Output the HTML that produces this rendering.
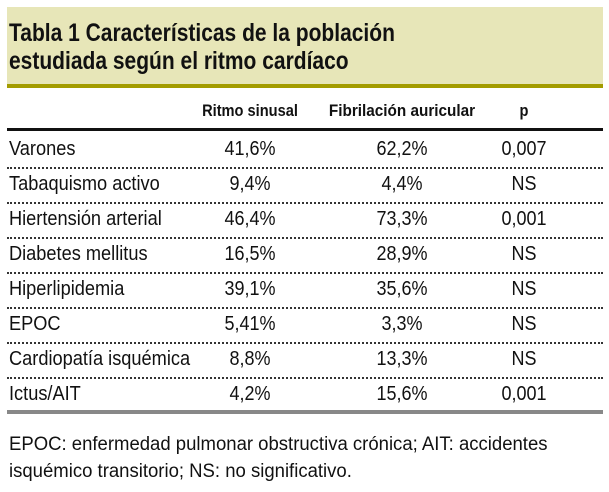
<!DOCTYPE html>
<html><head><meta charset="utf-8"><style>
body{margin:0;width:609px;height:492px;background:#fff;position:relative;overflow:hidden;font-family:"Liberation Sans",sans-serif;color:#111}
.a{position:absolute;white-space:nowrap}
.hdr{left:7px;top:7px;width:596px;height:77px;background:#e7e6b8}
.olive{left:7px;top:84px;width:596px;height:4px;background:#a39c00}
.t{left:9px;font-weight:bold;font-size:25px;line-height:28px;transform:scaleX(0.84);transform-origin:0 0}
.ch{font-weight:bold;font-size:17px;top:101px;transform:translateX(-50%) scaleX(0.86)}
.cell{font-size:20px;transform:translateX(-50%) scaleX(0.9)}
.lab{font-size:20px;left:9px;transform:scaleX(0.91);transform-origin:0 0}
.sep{left:7px;width:596px;height:0;border-top:2px dotted #333}
.fn{left:9px;font-size:19px;line-height:27px;transform:scaleX(0.975);transform-origin:0 0}
</style></head><body>
<div class="a hdr"></div>
<div class="a olive"></div>
<div class="a t" style="top:19px">Tabla 1 Características de la población<br>estudiada según el ritmo cardíaco</div>
<div class="a ch" style="left:250px">Ritmo sinusal</div>
<div class="a ch" style="left:402px;transform:translateX(-50%) scaleX(0.9)">Fibrilación auricular</div>
<div class="a ch" style="left:524px">p</div>
<div class="a" style="left:7px;top:128px;width:596px;height:3px;background:#111"></div>
<div id="rows"></div>
<div class="a" style="left:7px;top:410px;width:596px;height:4px;background:#888"></div>
<div class="a fn" style="top:431px">EPOC: enfermedad pulmonar obstructiva crónica; AIT: accidentes<br>isquémico transitorio; NS: no significativo.</div>
<script>
const labels=["Varones","Tabaquismo activo","Hiertensión arterial","Diabetes mellitus","Hiperlipidemia","EPOC","Cardiopatía isquémica","Ictus/AIT"];
const sinusal=["41,6%","9,4%","46,4%","16,5%","39,1%","5,41%","8,8%","4,2%"];
const fibrilacion=["62,2%","4,4%","73,3%","28,9%","35,6%","3,3%","13,3%","15,6%"];
const pvals=["0,007","NS","0,001","NS","NS","NS","NS","0,001"];
const c=document.getElementById('rows');
labels.forEach((l,i)=>{
  const y=138+i*35;
  const mk=(cls,txt,x,name)=>{const d=document.createElement('div');d.className='a '+cls;d.textContent=txt;d.style.top=y+'px';if(x!==null)d.style.left=x+'px';
    
    
    c.appendChild(d);};
  mk('lab',l,null,'row-label');
  mk('cell',sinusal[i],250,'cell-ritmo-sinusal');
  mk('cell',fibrilacion[i],402,'cell-fibrilacion');
  mk('cell',pvals[i],524,'cell-p');
  if(i<labels.length-1){const s=document.createElement('div');s.className='a sep';s.style.top=(167+i*35)+'px';
    
    
    c.appendChild(s);}
});
</script>
</body></html>
